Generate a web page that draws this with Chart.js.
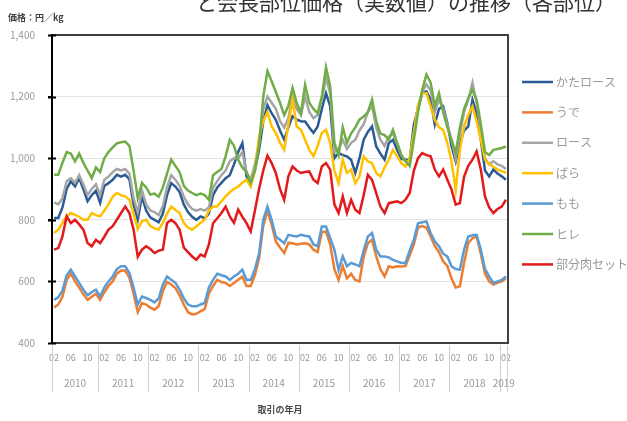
<!DOCTYPE html>
<html lang="ja">
<head>
<meta charset="UTF-8">
<title>部位価格の推移</title>
<script src="https://cdn.jsdelivr.net/npm/chart.js"></script>
<style>
  body { margin: 0; background: #fff; overflow: hidden; }
  #wrap { position: relative; width: 627px; height: 421px; }
</style>
</head>
<body>
<div id="wrap"><canvas id="chart" width="627" height="421"></canvas></div>
<script>
// 取引の年月: 2010-02 .. 2019-02, monthly
var years = [2010, 2011, 2012, 2013, 2014, 2015, 2016, 2017, 2018, 2019];
var firstMonth = 2, lastYear = 2019, lastMonth = 2;
var yTicks = [400, 600, 800, 1000, 1200, 1400];

var seriesNames = ['かたロース', 'うで', 'ロース', 'ばら', 'もも', 'ヒレ', '部分肉セット'];
var seriesColors = ['#2b5b94', '#ed7d31', '#a5a5a5', '#ffc000', '#5b9bd5', '#70ad47', '#e31a1c'];

var kataLoin = [806,806,840,900,925,908,935,900,860,880,
  895,855,910,919,930,946,940,946,932,850,
  800,876,830,808,800,792,820,880,919,908,
  890,850,825,810,800,811,805,820,880,905,
  920,935,945,980,1020,1049,940,919,960,1027,
  1120,1172,1146,1125,1090,1060,1100,1136,1125,1120,
  1119,1100,1082,1103,1160,1211,1168,1000,1017,1010,
  1006,995,952,1000,1060,1085,1103,1038,1015,995,
  1049,1060,1027,998,995,995,1110,1160,1211,1217,
  1190,1110,1160,1168,1114,1040,990,1049,1090,1103,
  1190,1146,1060,960,941,963,950,941,930];
var ude = [515,525,550,605,625,600,580,558,540,550,
  560,540,565,585,600,625,635,635,612,560,
  500,530,525,515,508,520,568,598,590,578,
  555,525,500,493,495,503,510,560,585,605,
  598,595,585,595,605,615,585,585,620,675,
  780,830,785,730,710,692,725,724,720,722,
  724,720,703,695,760,762,720,640,605,650,
  610,625,605,600,680,724,735,681,640,616,
  649,645,649,648,650,685,720,775,780,775,
  746,715,695,665,650,610,580,584,660,725,
  740,746,690,625,600,590,595,600,610];
var loin = [857,850,870,925,935,920,945,915,880,900,
  915,880,930,940,955,965,960,965,950,870,
  825,895,850,830,825,815,845,905,945,930,
  910,875,850,835,830,835,830,840,905,925,
  945,960,990,1000,1000,1020,955,930,980,1050,
  1160,1200,1180,1160,1120,1100,1130,1200,1160,1140,
  1200,1150,1130,1140,1190,1260,1210,1020,1030,1060,
  1030,1050,1060,1090,1110,1150,1170,1100,1060,1040,
  1070,1080,1050,1010,990,985,1080,1170,1215,1240,
  1220,1150,1190,1160,1110,1060,1000,1080,1150,1190,
  1245,1180,1090,1000,980,990,980,975,965];
var bara = [757,768,790,811,822,816,810,800,800,822,
  815,811,830,850,875,887,880,876,865,820,
  770,795,800,780,772,768,790,820,843,832,
  822,790,775,768,779,790,800,830,843,843,
  860,876,890,900,908,920,930,908,960,1071,
  1120,1150,1103,1082,1050,1027,1110,1190,1103,1092,
  1060,1027,1006,1040,1082,1092,1050,960,919,995,
  952,963,919,941,1006,990,984,952,941,970,
  995,1027,1006,985,973,1000,1082,1170,1211,1211,
  1168,1125,1100,1092,1050,990,897,1027,1103,1140,
  1168,1120,1060,995,980,973,963,958,952];
var momo = [540,548,570,620,638,616,595,573,555,565,
  573,551,580,600,616,640,649,649,627,580,
  525,551,546,540,532,545,590,616,605,595,
  573,545,525,519,519,525,530,580,605,625,
  620,616,605,616,625,638,605,605,640,690,
  800,843,800,746,735,724,751,748,746,751,
  748,746,720,714,778,778,740,703,638,681,
  649,660,655,649,700,746,757,703,681,681,
  678,670,665,660,660,700,735,789,792,795,
  757,730,714,690,681,649,640,638,703,746,
  750,751,703,640,616,595,600,605,616];
var hire = [946,946,985,1020,1015,990,1015,985,960,935,
  970,955,1000,1020,1035,1048,1052,1054,1040,960,
  870,920,905,882,885,875,905,950,995,975,
  955,910,895,887,880,885,880,865,945,955,
  965,1006,1060,1040,995,970,955,920,960,1040,
  1200,1283,1250,1215,1180,1140,1170,1228,1180,1146,
  1238,1180,1160,1146,1200,1295,1233,1050,1010,1100,
  1050,1080,1100,1125,1135,1150,1190,1120,1080,1075,
  1060,1092,1049,1010,990,975,1060,1150,1222,1272,
  1245,1170,1211,1150,1100,1060,1017,1100,1160,1195,
  1222,1190,1110,1020,1010,1027,1030,1033,1038];
var setPrice = [703,708,746,811,789,800,785,768,725,714,
  735,724,745,768,779,800,822,843,822,768,
  680,703,714,705,692,700,703,790,800,789,
  768,710,695,681,670,687,681,720,789,805,
  822,843,811,790,833,810,789,762,830,900,
  960,1008,984,952,900,865,941,973,960,952,
  955,957,930,919,973,984,963,850,822,876,
  822,865,833,822,880,946,930,887,843,822,
  854,857,860,854,865,887,960,1000,1017,1010,
  1006,963,941,963,930,898,849,854,940,975,
  995,1022,963,876,840,822,835,843,865];

var seriesData = [kataLoin, ude, loin, bara, momo, hire, setPrice];

// category labels "YYYY-MM"
var labels = [];
years.forEach(function (y) {
  for (var m = 1; m <= 12; m++) {
    if (y === years[0] && m < firstMonth) continue;
    if (y === lastYear && m > lastMonth) continue;
    labels.push(y + '-' + (m < 10 ? '0' + m : m));
  }
});

var FONT = '"Noto Sans CJK JP", "Noto Sans", sans-serif';
Chart.defaults.font.family = FONT;

var extras = {
  id: 'extras',
  afterDraw: function (chart) {
    var ctx = chart.ctx, a = chart.chartArea, xs = chart.scales.x, ys = chart.scales.y;
    ctx.save();

    // plot frame
    ctx.strokeStyle = '#404040';
    ctx.lineWidth = 2;
    ctx.strokeRect(a.left, a.top, a.right - a.left, a.bottom - a.top);
    ctx.strokeStyle = '#000';
    ctx.beginPath();
    ctx.moveTo(a.left, a.top - 1);
    ctx.lineTo(a.left, a.bottom + 1);
    yTicks.forEach(function (v) {
      var py = Math.round(ys.getPixelForValue(v)) + 0.5;
      ctx.moveTo(a.left - 4, py);
      ctx.lineTo(a.left + 4, py);
    });
    ctx.stroke();

    // year row under the month labels
    var step = xs.getPixelForValue(1) - xs.getPixelForValue(0);
    ctx.strokeStyle = '#d0d0d0';
    ctx.lineWidth = 1;
    ctx.fillStyle = '#999';
    ctx.font = '10px ' + FONT;
    ctx.textAlign = 'center';
    ctx.textBaseline = 'middle';
    years.forEach(function (y) {
      var first = -1, last = -1;
      labels.forEach(function (l, i) {
        if (l.indexOf(y + '-') === 0) { if (first < 0) first = i; last = i; }
      });
      var x0 = xs.getPixelForValue(first) - step / 2;
      var x1 = xs.getPixelForValue(last) + step / 2;
      ctx.beginPath();
      ctx.moveTo(Math.round(x0) + 0.5, a.bottom + 2);
      ctx.lineTo(Math.round(x0) + 0.5, a.bottom + 49);
      ctx.stroke();
      ctx.fillText(String(y), (x0 + x1) / 2, 383);
    });
    ctx.beginPath();
    ctx.moveTo(Math.round(a.right) - 0.5, a.bottom + 2);
    ctx.lineTo(Math.round(a.right) - 0.5, a.bottom + 49);
    ctx.stroke();

    // axis titles
    ctx.fillStyle = '#444';
    ctx.font = 'bold 9px ' + FONT;
    ctx.textAlign = 'center';
    ctx.fillText('取引の年月', (a.left + a.right) / 2, 410);
    ctx.textAlign = 'left';
    ctx.fillText('価格：円／kg', 8, 18);

    // title, cut off at the top like the source image
    ctx.fillStyle = '#333';
    ctx.font = '21px ' + FONT;
    ctx.textBaseline = 'alphabetic';
    ctx.fillText('と会長部位価格（実数値）の推移（各部位）', 196, 10);

    // legend
    ctx.font = '12px ' + FONT;
    ctx.textBaseline = 'middle';
    chart.data.datasets.forEach(function (ds, i) {
      var ly = 82 + i * 30.4;
      ctx.strokeStyle = ds.borderColor;
      ctx.lineWidth = 2.5;
      ctx.beginPath();
      ctx.moveTo(a.right + 14, ly);
      ctx.lineTo(a.right + 45, ly);
      ctx.stroke();
      ctx.fillStyle = '#999';
      ctx.fillText(ds.label, a.right + 48, ly);
    });
    ctx.restore();
  }
};

new Chart(document.getElementById('chart'), {
  type: 'line',
  data: {
    labels: labels,
    datasets: seriesNames.map(function (name, i) {
      return {
        label: name,
        data: seriesData[i],
        borderColor: seriesColors[i],
        backgroundColor: seriesColors[i],
        borderWidth: 2.5,
        pointRadius: 0,
        tension: 0,
        fill: false,
        order: seriesNames.length - i
      };
    })
  },
  options: {
    responsive: false,
    animation: false,
    devicePixelRatio: 1,
    layout: { padding: { top: 35, right: 119, left: 0, bottom: 0 } },
    plugins: { legend: { display: false }, tooltip: { enabled: false } },
    scales: {
      x: {
        type: 'category',
        offset: true,
        grid: { display: false, drawTicks: false },
        border: { display: false },
        ticks: {
          autoSkip: false,
          maxRotation: 0,
          padding: 9,
          color: '#999',
          font: { size: 9 },
          callback: function (v, i) {
            return i % 4 === 0 ? labels[i].slice(5) : '';
          }
        },
        afterFit: function (s) { s.height = 78; }
      },
      y: {
        min: 400,
        max: 1400,
        afterBuildTicks: function (s) {
          s.ticks = yTicks.map(function (v) { return { value: v }; });
        },
        grid: { color: '#e3e3e3', tickColor: '#000', tickLength: 4 },
        border: { display: false },
        ticks: {
          padding: 13,
          color: '#999',
          font: { size: 10 },
          callback: function (v) { return v.toLocaleString('en-US'); }
        },
        afterFit: function (s) { s.width = 52; }
      }
    }
  },
  plugins: [extras]
});
</script>
</body>
</html>
